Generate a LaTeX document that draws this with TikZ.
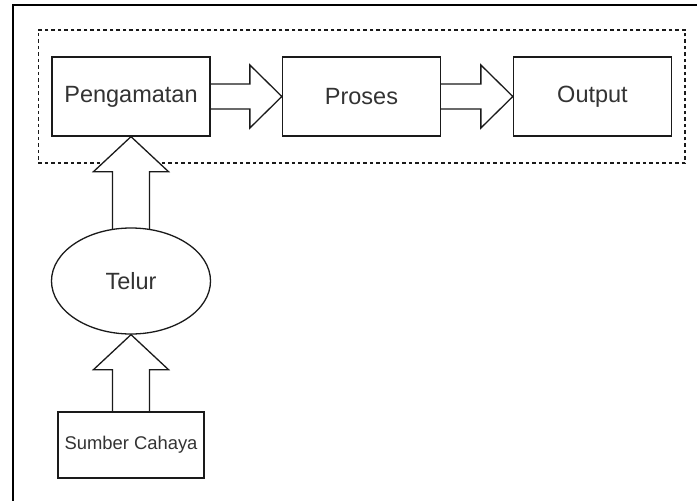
\documentclass[tikz,border=0pt]{standalone}
\usepackage{fontspec}
\setmainfont{Liberation Sans}
\usetikzlibrary{shapes.geometric,calc,backgrounds,fit}

\definecolor{inkline}{HTML}{1A1A1A}
\definecolor{inktext}{HTML}{333333}

\tikzset{
  box/.style={draw=inkline, line width=1.3pt, fill=white, inner sep=0pt,
    minimum width=158pt, minimum height=79pt, text=inktext,
    font=\fontsize{23.5}{27}\selectfont},
  oval/.style={ellipse, draw=inkline, line width=1.3pt, fill=white, inner sep=0pt,
    minimum width=159pt, minimum height=106pt, text=inktext,
    font=\fontsize{23.5}{27}\selectfont},
  group/.style={draw=inkline, line width=1.4pt, dash pattern=on 3.5pt off 3pt},
  blk/.style={draw=inkline, line width=1.3pt, fill=white, line join=miter},
  frameline/.style={draw=black, line width=1.8pt}
}

% horizontal block arrow from the east side of #1 to the west side of #2
\newcommand\blockright[2]{%
  \draw[blk] ($(#1.east)+(0,-12.5)$) -- ($(#2.west)+(-32,-12.5)$)
    -- ($(#2.west)+(-32,-31.5)$) -- (#2.west) -- ($(#2.west)+(-32,31.5)$)
    -- ($(#2.west)+(-32,12.5)$) -- ($(#1.east)+(0,12.5)$);}
% vertical block arrow rising from inside #1 to the south side of #2
\newcommand\blockup[2]{%
  \draw[blk] ($(#1.center)+(-18.5,0)$) -- ($(#2.south)+(-18.5,35)$)
    -- ($(#2.south)+(-37.5,35)$) -- (#2.south) -- ($(#2.south)+(37.5,35)$)
    -- ($(#2.south)+(18.5,35)$) -- ($(#1.center)+(18.5,0)$) -- cycle;}

\begin{document}
\begin{tikzpicture}[x=1pt,y=-1pt]
\useasboundingbox (0,0) rectangle (697,501);

% page frame (top and left edges)
\coordinate (fbl) at (13,501);
\coordinate (ftl) at (13,5);
\coordinate (ftr) at (697,5);
\draw[frameline] (fbl) -- (ftl) -- (ftr);

% pipeline
\node[box] (peng) at (131,96.5) {Pengamatan};
\node[box] (proc) at (361.5,96.5) {Proses};
\node[box] (out)  at (592.5,96.5) {Output};

% input chain
\node[oval] (telur) at (131,281) {Telur};
\node[box, minimum width=146pt, minimum height=66pt,
      font=\fontsize{18.4}{22}\selectfont] (src) at (131,445) {Sumber Cahaya};

\begin{scope}[on background layer]
  % dashed group around the pipeline, beneath the block arrows
  \node[group, fit=(peng)(proc)(out), inner sep=0pt, inner xsep=13pt, inner ysep=26.5pt] (grp) {};
  \blockright{peng}{proc}
  \blockright{proc}{out}
  \blockup{telur}{peng}
  \blockup{src}{telur}
\end{scope}
\end{tikzpicture}
\end{document}
